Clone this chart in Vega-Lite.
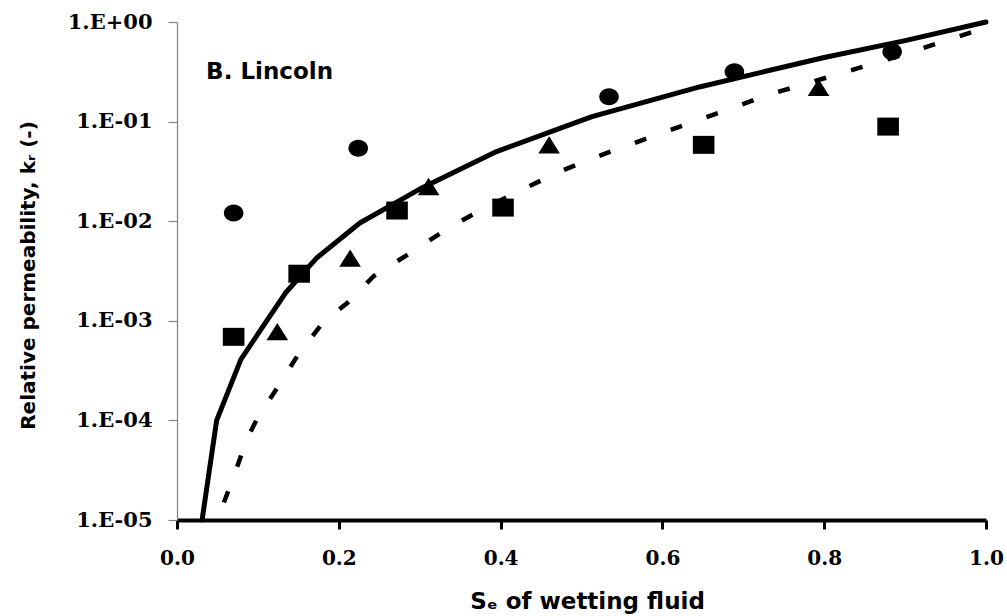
{
  "$schema": "https://vega.github.io/schema/vega-lite/v6.json",
  "width": 809,
  "height": 498,
  "autosize": {"type": "none"},
  "padding": {"left": 177, "top": 22, "right": 21, "bottom": 96},
  "background": "white",
  "config": {
    "view": {"stroke": null},
    "axis": {"grid": false}
  },
  "datasets": {
    "curves": [
      {"curve": "model 1", "se": 0.031, "kr": 0.00001},
      {"curve": "model 1", "se": 0.049, "kr": 0.0001},
      {"curve": "model 1", "se": 0.079, "kr": 0.00041},
      {"curve": "model 1", "se": 0.134, "kr": 0.0019},
      {"curve": "model 1", "se": 0.173, "kr": 0.0043},
      {"curve": "model 1", "se": 0.226, "kr": 0.0096},
      {"curve": "model 1", "se": 0.300, "kr": 0.021},
      {"curve": "model 1", "se": 0.395, "kr": 0.050},
      {"curve": "model 1", "se": 0.513, "kr": 0.112},
      {"curve": "model 1", "se": 0.647, "kr": 0.224},
      {"curve": "model 1", "se": 0.800, "kr": 0.44},
      {"curve": "model 1", "se": 0.900, "kr": 0.65},
      {"curve": "model 1", "se": 1.000, "kr": 1.0},
      {"curve": "model 2", "se": 0.058, "kr": 0.000015},
      {"curve": "model 2", "se": 0.072, "kr": 0.00003},
      {"curve": "model 2", "se": 0.086, "kr": 0.000064},
      {"curve": "model 2", "se": 0.100, "kr": 0.000108},
      {"curve": "model 2", "se": 0.120, "kr": 0.00019},
      {"curve": "model 2", "se": 0.150, "kr": 0.00046},
      {"curve": "model 2", "se": 0.180, "kr": 0.00095},
      {"curve": "model 2", "se": 0.210, "kr": 0.0015},
      {"curve": "model 2", "se": 0.243, "kr": 0.0028},
      {"curve": "model 2", "se": 0.290, "kr": 0.0049},
      {"curve": "model 2", "se": 0.335, "kr": 0.0085},
      {"curve": "model 2", "se": 0.380, "kr": 0.0135},
      {"curve": "model 2", "se": 0.426, "kr": 0.0206},
      {"curve": "model 2", "se": 0.473, "kr": 0.0315},
      {"curve": "model 2", "se": 0.530, "kr": 0.048},
      {"curve": "model 2", "se": 0.577, "kr": 0.066},
      {"curve": "model 2", "se": 0.625, "kr": 0.091},
      {"curve": "model 2", "se": 0.680, "kr": 0.131},
      {"curve": "model 2", "se": 0.730, "kr": 0.185},
      {"curve": "model 2", "se": 0.835, "kr": 0.33},
      {"curve": "model 2", "se": 0.890, "kr": 0.45},
      {"curve": "model 2", "se": 0.950, "kr": 0.65},
      {"curve": "model 2", "se": 1.000, "kr": 0.88}
    ],
    "obs": [
      {"set": "circles", "se": 0.070, "kr": 0.0121},
      {"set": "circles", "se": 0.224, "kr": 0.054},
      {"set": "circles", "se": 0.534, "kr": 0.178},
      {"set": "circles", "se": 0.689, "kr": 0.3175},
      {"set": "circles", "se": 0.884, "kr": 0.504},
      {"set": "squares", "se": 0.070, "kr": 0.00069},
      {"set": "squares", "se": 0.151, "kr": 0.00297},
      {"set": "squares", "se": 0.272, "kr": 0.0128},
      {"set": "squares", "se": 0.403, "kr": 0.0137},
      {"set": "squares", "se": 0.651, "kr": 0.0584},
      {"set": "squares", "se": 0.879, "kr": 0.0891},
      {"set": "triangles", "se": 0.124, "kr": 0.00078},
      {"set": "triangles", "se": 0.214, "kr": 0.00426},
      {"set": "triangles", "se": 0.311, "kr": 0.0223},
      {"set": "triangles", "se": 0.460, "kr": 0.0584},
      {"set": "triangles", "se": 0.793, "kr": 0.221}
    ],
    "label": [
      {"se": 0.036, "kr": 0.316, "text": "B. Lincoln"}
    ]
  },
  "encoding": {
    "x": {
      "field": "se",
      "type": "quantitative",
      "scale": {"domain": [0, 1], "nice": false, "zero": false},
      "axis": {
        "title": "Sₑ of wetting fluid",
        "values": [0, 0.2, 0.4, 0.6, 0.8, 1.0],
        "format": ".1f",
        "domainColor": "black",
        "domainWidth": 4,
        "tickColor": "black",
        "tickWidth": 3,
        "tickSize": 9,
        "labelFont": "DejaVu Serif",
        "labelFontWeight": "bold",
        "labelFontSize": 20,
        "labelColor": "black",
        "labelPadding": 19,
        "labelFlush": false,
        "titleFont": "DejaVu Sans",
        "titleFontWeight": "bold",
        "titleFontSize": 23,
        "titleColor": "black",
        "titleX": 410,
        "titleY": 88,
        "titleAlign": "center",
        "titleBaseline": "alphabetic"
      }
    },
    "y": {
      "field": "kr",
      "type": "quantitative",
      "scale": {"type": "log", "domain": [0.00001, 1], "nice": false},
      "axis": {
        "title": "Relative permeability, kᵣ (-)",
        "values": [0.00001, 0.0001, 0.001, 0.01, 0.1, 1],
        "labelExpr": "datum.value >= 0.99 ? '1.E+00' : '1.E-0' + format(-log(datum.value)/LN10, '.0f')",
        "domainColor": "#808080",
        "domainWidth": 1.2,
        "tickColor": "#808080",
        "tickWidth": 1.2,
        "tickSize": 9,
        "labelFont": "DejaVu Serif",
        "labelFontWeight": "bold",
        "labelFontSize": 21,
        "labelColor": "black",
        "labelPadding": 16,
        "labelFlush": false,
        "titleFont": "DejaVu Sans",
        "titleFontWeight": "bold",
        "titleFontSize": 20,
        "titleColor": "black",
        "titleAngle": -90,
        "titleX": -143,
        "titleY": 253,
        "titleAlign": "center",
        "titleBaseline": "alphabetic"
      }
    }
  },
  "layer": [
    {
      "data": {"name": "curves"},
      "transform": [{"filter": "datum.curve === 'model 2'"}],
      "mark": {"type": "line", "color": "black", "strokeWidth": 4.5, "strokeDash": [12, 26]}
    },
    {
      "data": {"name": "curves"},
      "transform": [{"filter": "datum.curve === 'model 1'"}],
      "mark": {"type": "line", "color": "black", "strokeWidth": 5, "strokeCap": "round", "strokeJoin": "round"}
    },
    {
      "data": {"name": "obs"},
      "transform": [{"filter": "datum.set === 'circles'"}],
      "mark": {"type": "point", "filled": true, "color": "black", "opacity": 1, "size": 289,
               "shape": "M-1.15,0A1.15,1,0,1,0,1.15,0A1.15,1,0,1,0,-1.15,0Z"}
    },
    {
      "data": {"name": "obs"},
      "transform": [{"filter": "datum.set === 'squares'"}],
      "mark": {"type": "point", "filled": true, "color": "black", "opacity": 1, "size": 324,
               "shape": "M-1.2,-1L1.2,-1L1.2,1L-1.2,1Z"}
    },
    {
      "data": {"name": "obs"},
      "transform": [{"filter": "datum.set === 'triangles'"}],
      "mark": {"type": "point", "filled": true, "color": "black", "opacity": 1, "size": 300,
               "shape": "M0,-1L1.25,1L-1.25,1Z"}
    },
    {
      "data": {"name": "label"},
      "mark": {"type": "text", "align": "left", "baseline": "middle", "font": "DejaVu Sans", "fontWeight": "bold", "fontSize": 23, "color": "black"},
      "encoding": {"text": {"field": "text"}}
    }
  ]
}
